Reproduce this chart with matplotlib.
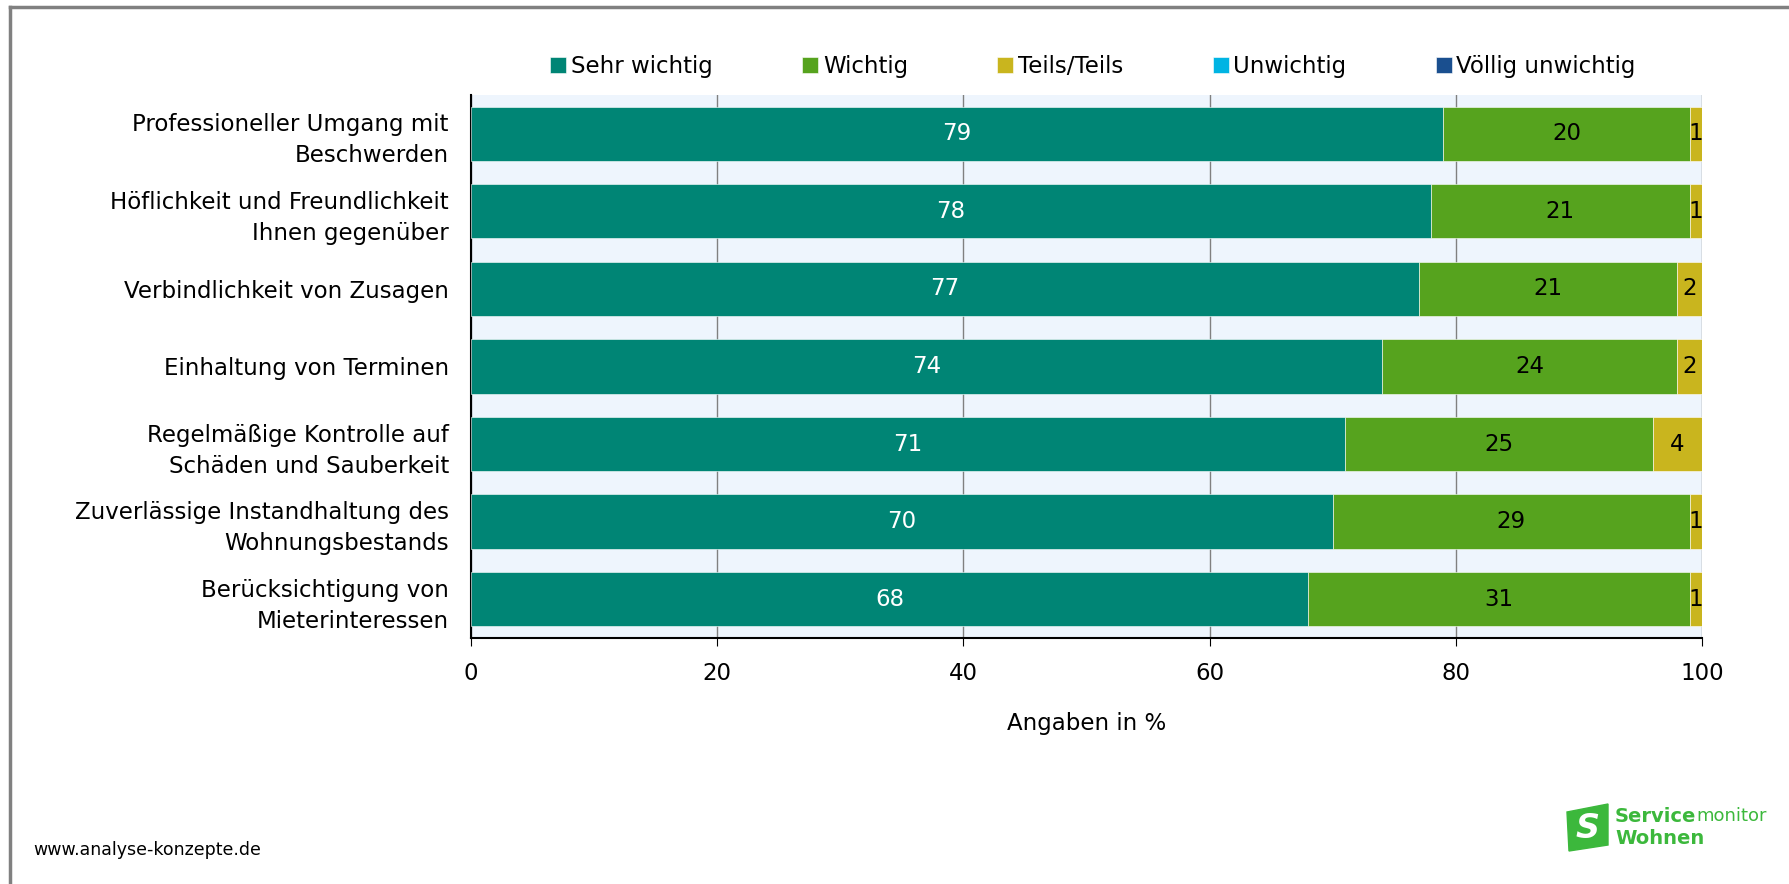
import matplotlib.pyplot as plt
from matplotlib.lines import Line2D
from matplotlib.patches import Polygon
import numpy as np

plt.rcParams['font.family'] = ['DejaVu Sans']

# categories top to bottom
categories = ['Professioneller Umgang mit\nBeschwerden',
              'Höflichkeit und Freundlichkeit\nIhnen gegenüber',
              'Verbindlichkeit von Zusagen',
              'Einhaltung von Terminen',
              'Regelmäßige Kontrolle auf\nSchäden und Sauberkeit',
              'Zuverlässige Instandhaltung des\nWohnungsbestands',
              'Berücksichtigung von\nMieterinteressen']
series = ['Sehr wichtig', 'Wichtig', 'Teils/Teils', 'Unwichtig', 'Völlig unwichtig']
sehr_wichtig = [79, 78, 77, 74, 71, 70, 68]
wichtig = [20, 21, 21, 24, 25, 29, 31]
teils = [1, 1, 2, 2, 4, 1, 1]
unwichtig = [0, 0, 0, 0, 0, 0, 0]
voellig = [0, 0, 0, 0, 0, 0, 0]
colors = ['#008575', '#56A31E', '#C9B51E', '#00B4E3', '#1A4F8F']
label_colors = ['white', 'black', 'black', 'black', 'white']

fs = 16.5
fig = plt.figure(figsize=(17.89, 8.84), dpi=100)
ax = fig.add_axes([0.2633, 0.2783, 0.688, 0.6143])
ax.set_facecolor('#EEF5FD')

y = np.arange(len(categories))
left = np.zeros(len(categories))
for name, vals, c, lc in zip(series, [sehr_wichtig, wichtig, teils, unwichtig, voellig], colors, label_colors):
    vals = np.array(vals)
    ax.barh(y, vals, left=left, height=0.7, color=c, edgecolor='#ffffff', linewidth=0.4, label=name, zorder=3)
    for yi, l, v in zip(y, left, vals):
        if v > 0:
            ax.text(l + v / 2, yi, str(v), ha='center', va='center', color=lc, fontsize=fs, zorder=4)
    left += vals

ax.set_xlim(0, 100)
ax.set_ylim(len(categories) - 0.5, -0.5)
ax.set_yticks(y)
ax.set_yticklabels(categories, fontsize=fs, linespacing=1.45)
ax.tick_params(axis='y', length=0, pad=16)
ax.set_xticks([0, 20, 40, 60, 80, 100])
ax.tick_params(axis='x', labelsize=fs, length=6, pad=11)
ax.xaxis.grid(True, color='#808080', linewidth=1, zorder=1)
ax.set_axisbelow(True)
ax.set_xlabel('Angaben in %', fontsize=fs, labelpad=20)
for s in ['top', 'right']:
    ax.spines[s].set_visible(False)
ax.spines['left'].set_linewidth(1.5)
ax.spines['bottom'].set_linewidth(1.5)

fig.legend(loc='center', bbox_to_anchor=(0.611, 0.925), ncol=5, frameon=False,
           fontsize=fs, handlelength=0.7, handleheight=0.7, handletextpad=0.2,
           columnspacing=3.9)

# frame lines left and top
fig.add_artist(Line2D([10 / 1789, 10 / 1789], [0, 1 - 7 / 884], color='#808080', linewidth=2.5))
fig.add_artist(Line2D([10 / 1789, 1], [1 - 7 / 884, 1 - 7 / 884], color='#808080', linewidth=2.5))

fig.text(33 / 1789, 1 - 850 / 884, 'www.analyse-konzepte.de', fontsize=12.5, va='center')

# logo
g = '#3CB83C'
fig.add_artist(Polygon([[1567 / 1789, 1 - 812 / 884], [1608 / 1789, 1 - 804 / 884],
                        [1608 / 1789, 1 - 845 / 884], [1569 / 1789, 1 - 851 / 884]],
                       closed=True, color=g, transform=fig.transFigure))
fig.text(1588 / 1789, 1 - 828 / 884, 'S', fontsize=24, color='white', fontweight='bold',
         ha='center', va='center', style='italic')
t = fig.text(1615 / 1789, 1 - 816 / 884, 'Service', fontsize=14, color=g, fontweight='bold', va='center')
fig.canvas.draw()
bb = t.get_window_extent()
fig.text(bb.x1 / 1789, 1 - 816 / 884, 'monitor', fontsize=13, color=g, va='center')
fig.text(1615 / 1789, 1 - 838 / 884, 'Wohnen', fontsize=14, color=g, fontweight='bold', va='center')

fig.savefig('out.png', dpi=100, facecolor='white')
